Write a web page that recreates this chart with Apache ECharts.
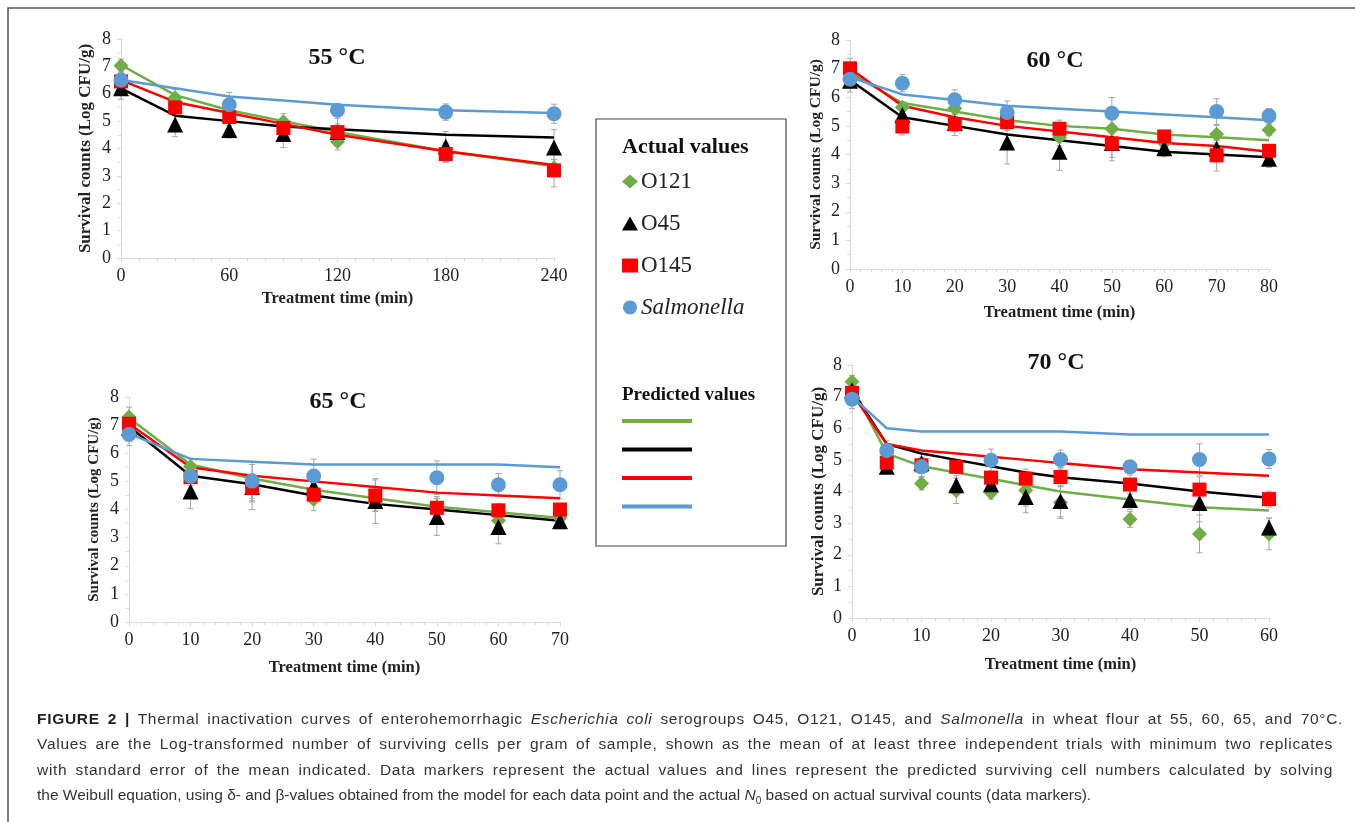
<!DOCTYPE html>
<html>
<head>
<meta charset="utf-8">
<script src="https://cdn.jsdelivr.net/npm/echarts@6/dist/echarts.min.js"></script>
<style>
  body { margin: 0; background: #fff; }
  #wrap { position: relative; width: 1355px; height: 822px; overflow: hidden; }
  #chart { position: absolute; left: 0; top: 0; width: 1355px; height: 822px; }
  #caption {
    position: absolute; left: 37px; top: 706px;
    font-family: 'Liberation Sans', Arial, sans-serif; font-size: 15.5px;
    line-height: 25.3px; color: #333;
  }
  #caption .ln { height: 25.3px; white-space: nowrap; }
  #caption .ln.just { text-align: justify; text-align-last: justify; white-space: normal; }
  #caption b { color: #222; }
  #caption sub { font-size: 10px; line-height: 0; }
</style>
</head>
<body>
<div id="wrap">
  <div id="chart"></div>
  <div id="caption">
    <div class="ln" data-w="1306"><b>FIGURE 2 |</b> Thermal inactivation curves of enterohemorrhagic <i>Escherichia coli</i> serogroups O45, O121, O145, and <i>Salmonella</i> in wheat flour at 55, 60, 65, and 70°C.</div>
    <div class="ln" data-w="1296">Values are the Log-transformed number of surviving cells per gram of sample, shown as the mean of at least three independent trials with minimum two replicates</div>
    <div class="ln" data-w="1296">with standard error of the mean indicated. Data markers represent the actual values and lines represent the predicted surviving cell numbers calculated by solving</div>
    <div class="ln">the Weibull equation, using δ- and β-values obtained from the model for each data point and the actual <i>N</i><sub>0</sub> based on actual survival counts (data markers).</div>
  </div>
</div>
<script>
(function () {
  const serif = "'Liberation Serif', 'Times New Roman', serif";
  const names = ['O121', 'O45', 'O145', 'Salmonella'];
  const colors = ['#70ad47', '#000000', '#ff0000', '#5b9bd5'];
  const symbols = ['diamond', 'triangle', 'rect', 'circle'];
  const symbolSizes = [15, 16, 14, 15];

  // 55 °C
  const t55 = [0, 30, 60, 90, 120, 180, 240];
  const t55Sal = [0, 60, 120, 180, 240];
  const a55_O121 = [7.02, 5.85, 5.3, 4.98, 4.25, 3.85, 3.3];
  const a55_O45 = [6.2, 4.88, 4.68, 4.53, 4.6, 4.07, 4.04];
  const a55_O145 = [6.45, 5.5, 5.15, 4.75, 4.6, 3.8, 3.2];
  const a55_Sal = [6.5, 5.6, 5.4, 5.33, 5.27];
  const e55_O121 = [0.25, 0.3, 0.3, 0.3, 0.3, 0.35, 0.3];
  const e55_O45 = [0.4, 0.45, 0.3, 0.5, 0.3, 0.55, 0.65];
  const e55_O145 = [0.2, 0.3, 0.3, 0.3, 0.5, 0.3, 0.6];
  const e55_Sal = [0.3, 0.45, 0.2, 0.3, 0.35];
  const p55_O121 = [7.05, 5.95, 5.4, 5.0, 4.6, 3.9, 3.35];
  const p55_O45 = [6.2, 5.2, 5.0, 4.8, 4.7, 4.5, 4.4];
  const p55_O145 = [6.5, 5.7, 5.3, 4.9, 4.5, 3.9, 3.4];
  const p55_Sal = [6.5, 6.2, 5.9, 5.75, 5.6, 5.4, 5.3];

  // 60 °C
  const t60 = [0, 10, 20, 30, 40, 50, 60, 70, 80];
  const t60Sal = [0, 10, 20, 30, 50, 70, 80];
  const a60_O121 = [6.8, 5.65, 5.62, 5.2, 4.6, 4.9, 4.4, 4.71, 4.86];
  const a60_O45 = [6.58, 5.38, 5.1, 4.42, 4.1, 4.4, 4.22, 4.2, 3.85];
  const a60_O145 = [7.01, 4.98, 5.06, 5.13, 4.9, 4.38, 4.63, 3.97, 4.13];
  const a60_Sal = [6.63, 6.49, 5.91, 5.47, 5.44, 5.5, 5.35];
  const e60_O121 = [0.3, 0.2, 0.2, 0.3, 0.3, 0.4, 0.3, 0.3, 0.2];
  const e60_O45 = [0.4, 0.3, 0.3, 0.75, 0.65, 0.5, 0.3, 0.3, 0.3];
  const e60_O145 = [0.35, 0.3, 0.4, 0.3, 0.3, 0.6, 0.2, 0.55, 0.2];
  const e60_Sal = [0.3, 0.3, 0.35, 0.4, 0.55, 0.45, 0.25];
  const p60_O121 = [6.85, 5.8, 5.5, 5.2, 5.0, 4.9, 4.7, 4.6, 4.5];
  const p60_O45 = [6.6, 5.3, 5.0, 4.7, 4.5, 4.3, 4.1, 4.0, 3.9];
  const p60_O145 = [7.0, 5.7, 5.3, 5.0, 4.8, 4.6, 4.4, 4.3, 4.1];
  const p60_Sal = [6.7, 6.1, 5.9, 5.7, 5.6, 5.5, 5.4, 5.3, 5.2];

  // 65 °C
  const t65 = [0, 10, 20, 30, 40, 50, 60, 70];
  const t65Sal = [0, 10, 20, 30, 50, 60, 70];
  const a65_O121 = [7.29, 5.53, 4.8, 4.36, 4.23, 4.1, 3.61, 3.7];
  const a65_O45 = [6.9, 4.64, 4.8, 4.82, 4.3, 3.73, 3.38, 3.58];
  const a65_O145 = [7.05, 5.15, 4.77, 4.53, 4.5, 4.06, 3.97, 4.0];
  const a65_Sal = [6.67, 5.18, 5.01, 5.19, 5.13, 4.88, 4.88];
  const e65_O121 = [0.35, 0.3, 0.4, 0.4, 0.3, 0.3, 0.3, 0.2];
  const e65_O45 = [0.4, 0.6, 0.8, 0.4, 0.8, 0.65, 0.6, 0.2];
  const e65_O145 = [0.4, 0.3, 0.5, 0.3, 0.55, 0.4, 0.25, 0.2];
  const e65_Sal = [0.4, 0.5, 0.7, 0.6, 0.6, 0.4, 0.5];
  const p65_O121 = [7.25, 5.6, 5.1, 4.7, 4.4, 4.1, 3.9, 3.7];
  const p65_O45 = [6.95, 5.2, 4.9, 4.5, 4.2, 4.0, 3.8, 3.6];
  const p65_O145 = [7.05, 5.5, 5.2, 5.0, 4.8, 4.6, 4.5, 4.4];
  const p65_Sal = [6.7, 5.8, 5.7, 5.6, 5.6, 5.6, 5.6, 5.5];

  // 70 °C
  const t70 = [0, 5, 10, 15, 20, 25, 30, 40, 50, 60];
  const t70Sal = [0, 5, 10, 20, 30, 40, 50, 60];
  const a70_O121 = [7.47, 5.2, 4.25, 4.02, 3.96, 4.04, 3.65, 3.12, 2.66, 2.66];
  const a70_O45 = [7.2, 4.78, 4.9, 4.2, 4.23, 3.83, 3.7, 3.73, 3.64, 2.86];
  const a70_O145 = [7.12, 4.91, 4.83, 4.78, 4.44, 4.41, 4.46, 4.22, 4.06, 3.76];
  const a70_Sal = [6.92, 5.3, 4.78, 4.99, 5.01, 4.78, 5.01, 5.03];
  const e70_O121 = [0.2, 0.3, 0.2, 0.4, 0.2, 0.5, 0.5, 0.25, 0.6, 0.5];
  const e70_O45 = [0.3, 0.2, 0.3, 0.3, 0.3, 0.5, 0.5, 0.3, 0.6, 0.3];
  const e70_O145 = [0.2, 0.3, 0.2, 0.2, 0.2, 0.3, 0.3, 0.3, 0.4, 0.25];
  const e70_Sal = [0.3, 0.3, 0.3, 0.35, 0.3, 0.2, 0.5, 0.3];
  const p70_O121 = [7.3, 5.2, 4.8, 4.6, 4.4, 4.2, 4.0, 3.75, 3.5, 3.4];
  const p70_O45 = [7.2, 5.5, 5.2, 5.0, 4.8, 4.6, 4.45, 4.25, 4.0, 3.8];
  const p70_O145 = [7.1, 5.5, 5.3, 5.2, 5.1, 5.0, 4.9, 4.7, 4.6, 4.5];
  const p70_Sal = [7.0, 6.0, 5.9, 5.9, 5.9, 5.9, 5.9, 5.8, 5.8, 5.8];

  const panels = [
    { title: '55 °C', tx: 337, ty: 58, t: t55, tSal: t55Sal, max: 240, interval: 60, minor: 6,
      grid: { left: 121, top: 39, width: 433, height: 219 }, xGap: 32, yGap: 27, yNameSize: 17,
      act: [a55_O121, a55_O45, a55_O145, a55_Sal], err: [e55_O121, e55_O45, e55_O145, e55_Sal],
      pred: [p55_O121, p55_O45, p55_O145, p55_Sal] },
    { title: '60 °C', tx: 1055, ty: 61, t: t60, tSal: t60Sal, max: 80, interval: 10, minor: 5,
      grid: { left: 850, top: 40, width: 419, height: 229 }, xGap: 35, yGap: 26, yNameSize: 15.5,
      act: [a60_O121, a60_O45, a60_O145, a60_Sal], err: [e60_O121, e60_O45, e60_O145, e60_Sal],
      pred: [p60_O121, p60_O45, p60_O145, p60_Sal] },
    { title: '65 °C', tx: 338, ty: 402, t: t65, tSal: t65Sal, max: 70, interval: 10, minor: 5,
      grid: { left: 129, top: 397, width: 431, height: 225 }, xGap: 37, yGap: 27, yNameSize: 15,
      act: [a65_O121, a65_O45, a65_O145, a65_Sal], err: [e65_O121, e65_O45, e65_O145, e65_Sal],
      pred: [p65_O121, p65_O45, p65_O145, p65_Sal] },
    { title: '70 °C', tx: 1056, ty: 363, t: t70, tSal: t70Sal, max: 60, interval: 10, minor: 5,
      grid: { left: 852, top: 365, width: 417, height: 253 }, xGap: 38, yGap: 25, yNameSize: 17,
      act: [a70_O121, a70_O45, a70_O145, a70_Sal], err: [e70_O121, e70_O45, e70_O145, e70_Sal],
      pred: [p70_O121, p70_O45, p70_O145, p70_Sal] }
  ];

  const axisGray = '#d9d9d9';
  const grids = [], xAxes = [], yAxes = [], series = [], graphics = [];

  panels.forEach(function (p, i) {
    grids.push(Object.assign({ containLabel: false }, p.grid));
    xAxes.push({
      gridIndex: i, type: 'value', min: 0, max: p.max, interval: p.interval,
      name: 'Treatment time (min)', nameLocation: 'middle', nameGap: p.xGap,
      nameTextStyle: { fontFamily: serif, fontWeight: 'bold', fontSize: 16.5, color: '#222' },
      axisLine: { lineStyle: { color: axisGray, width: 1 } },
      axisTick: { show: true, length: 4, lineStyle: { color: axisGray } },
      minorTick: { show: true, splitNumber: p.minor, length: 3, lineStyle: { color: axisGray } },
      axisLabel: { fontFamily: serif, fontSize: 18, color: '#222', margin: 9 },
      splitLine: { show: false }
    });
    yAxes.push({
      gridIndex: i, type: 'value', min: 0, max: 8, interval: 1,
      name: 'Survival counts (Log CFU/g)', nameLocation: 'middle', nameGap: p.yGap, nameRotate: 90,
      nameTextStyle: { fontFamily: serif, fontWeight: 'bold', fontSize: p.yNameSize, color: '#222' },
      axisLine: { show: true, lineStyle: { color: axisGray, width: 1 } },
      axisTick: { show: true, length: 4, lineStyle: { color: axisGray } },
      minorTick: { show: true, splitNumber: 2, length: 3, lineStyle: { color: axisGray } },
      axisLabel: { fontFamily: serif, fontSize: 18, color: '#222', margin: 10 },
      splitLine: { show: false }
    });

    // error bars
    names.forEach(function (n, k) {
      const times = k === 3 ? p.tSal : p.t;
      series.push({
        type: 'custom', xAxisIndex: i, yAxisIndex: i, z: 1, silent: true,
        data: times.map(function (x, j) { return [x, p.act[k][j] - p.err[k][j], p.act[k][j] + p.err[k][j]]; }),
        renderItem: function (params, api) {
          const lo = api.coord([api.value(0), api.value(1)]);
          const hi = api.coord([api.value(0), api.value(2)]);
          const st = { stroke: '#a6a6a6', lineWidth: 1 };
          return { type: 'group', children: [
            { type: 'line', shape: { x1: lo[0], y1: lo[1], x2: hi[0], y2: hi[1] }, style: st },
            { type: 'line', shape: { x1: lo[0] - 3, y1: lo[1], x2: lo[0] + 3, y2: lo[1] }, style: st },
            { type: 'line', shape: { x1: hi[0] - 3, y1: hi[1], x2: hi[0] + 3, y2: hi[1] }, style: st }
          ] };
        }
      });
    });

    // predicted lines
    names.forEach(function (n, k) {
      series.push({
        type: 'line', name: n + ' predicted', xAxisIndex: i, yAxisIndex: i, z: 2,
        showSymbol: false, silent: true,
        data: p.t.map(function (x, j) { return [x, p.pred[k][j]]; }),
        itemStyle: { color: colors[k] },
        lineStyle: { color: colors[k], width: 2.5 }
      });
    });

    // actual values
    names.forEach(function (n, k) {
      const times = k === 3 ? p.tSal : p.t;
      series.push({
        type: 'scatter', name: n, xAxisIndex: i, yAxisIndex: i, z: 3,
        symbol: symbols[k], symbolSize: symbolSizes[k],
        data: times.map(function (x, j) { return [x, p.act[k][j]]; }),
        itemStyle: { color: colors[k], opacity: 1 }
      });
    });

    graphics.push({
      type: 'text', x: p.tx, y: p.ty,
      style: { text: p.title, fontFamily: serif, fontWeight: 'bold', fontSize: 24, fill: '#111',
        align: 'center', verticalAlign: 'middle' }
    });
  });

  // legend box and headers
  graphics.push({ type: 'rect', shape: { x: 596, y: 119, width: 190, height: 427 },
    style: { fill: 'none', stroke: '#444', lineWidth: 1.2 } });
  graphics.push({ type: 'text', x: 622, y: 147,
    style: { text: 'Actual values', fontFamily: serif, fontWeight: 'bold', fontSize: 22, fill: '#111',
      align: 'left', verticalAlign: 'middle' } });
  graphics.push({ type: 'text', x: 622, y: 395,
    style: { text: 'Predicted values', fontFamily: serif, fontWeight: 'bold', fontSize: 19, fill: '#111',
      align: 'left', verticalAlign: 'middle' } });
  // figure frame
  graphics.push({ type: 'polyline', shape: { points: [[8, 822], [8, 8], [1355, 8]] },
    style: { fill: 'none', stroke: '#555', lineWidth: 1.5 } });

  const option = {
    backgroundColor: '#fff',
    animation: false,
    grid: grids,
    xAxis: xAxes,
    yAxis: yAxes,
    legend: [
      {
        orient: 'vertical', left: 622, top: 170, padding: 0, itemGap: 19,
        itemWidth: 16, itemHeight: 14,
        data: ['O121', 'O45', 'O145', { name: 'Salmonella', textStyle: { fontStyle: 'italic' } }],
        textStyle: { fontFamily: serif, fontSize: 23, color: '#222', padding: [0, 0, 0, -2] }
      },
      {
        orient: 'vertical', left: 622, top: 419, padding: 0, itemGap: 24.5,
        itemWidth: 70, itemHeight: 4, icon: 'rect',
        data: names.map(function (n) { return n + ' predicted'; }),
        formatter: function () { return ''; },
        textStyle: { fontSize: 4 }
      }
    ],
    graphic: graphics,
    series: series
  };

  const chart = echarts.init(document.getElementById('chart'), null, { renderer: 'canvas' });
  chart.setOption(option);

  // caption: spread the first three lines to the column width, partly via letter spacing
  document.querySelectorAll('#caption .ln[data-w]').forEach(function (el) {
    const target = +el.getAttribute('data-w');
    const natural = el.scrollWidth > 0 ? (function () {
      const r = document.createRange(); r.selectNodeContents(el); return r.getBoundingClientRect().width;
    })() : target;
    const chars = el.textContent.trim().length;
    const extra = Math.max(0, target - natural);
    el.style.letterSpacing = (extra * 0.6 / chars).toFixed(3) + 'px';
    el.style.width = target + 'px';
    el.classList.add('just');
  });
})();
</script>
</body>
</html>
